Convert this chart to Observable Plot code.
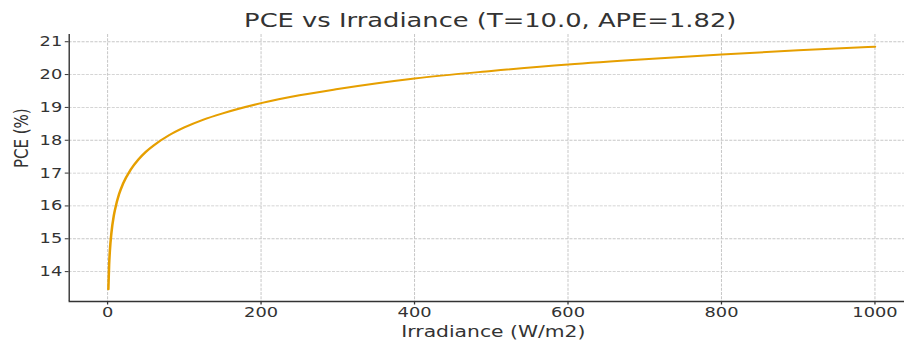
<!DOCTYPE html>
<html>
<head>
<meta charset="utf-8">
<script src="https://cdn.jsdelivr.net/npm/d3@7"></script>
<script src="https://cdn.jsdelivr.net/npm/@observablehq/plot@0.6"></script>
<style>
  html, body { margin: 0; padding: 0; background: #fff; overflow: hidden; }
  #wrap { width: 712px; transform: scaleX(1.27); transform-origin: 0 0; font-family: "DejaVu Sans", sans-serif; color: #333; }
  #title { height: 34px; line-height: 40px; font-size: 20.3px; text-align: center; padding-left: 60px; box-sizing: border-box; white-space: nowrap; }
  #chart svg { display: block; overflow: visible; }
</style>
</head>
<body>
<div id="wrap">
  <div id="title"></div>
  <div id="chart"></div>
</div>
<script>
const titleText = "PCE vs Irradiance (T=10.0, APE=1.82)";
const xLabel = "Irradiance (W/m2)";
const yLabel = "PCE (%)";

// Irradiance (W/m2) and PCE (%)
const irradiance = [1, 2, 3, 5, 8, 10, 15, 20, 30, 40, 50, 60, 80, 100, 125, 150, 200, 250, 300, 400, 500, 600, 700, 800, 900, 1000];
const pce = [13.46, 14.20, 14.64, 15.18, 15.69, 15.92, 16.36, 16.67, 17.10, 17.41, 17.65, 17.84, 18.15, 18.39, 18.63, 18.82, 19.13, 19.37, 19.56, 19.88, 20.11, 20.31, 20.47, 20.61, 20.74, 20.85];

const xTicks = [0, 200, 400, 600, 800, 1000];
const yTicks = [14, 15, 16, 17, 18, 19, 20, 21];
const xDomain = [-50, 1039];
const yDomain = [13.09, 21.22];

const data = irradiance.map((g, i) => ({g, p: pce[i]}));

document.getElementById("title").textContent = titleText;

const chart = Plot.plot({
  width: 712,
  height: 309,
  marginLeft: 54,
  marginRight: 0,
  marginTop: 0,
  marginBottom: 42,
  style: { fontFamily: "DejaVu Sans, sans-serif", color: "#333", background: "#fff", overflow: "visible" },
  x: { domain: xDomain },
  y: { domain: yDomain },
  marks: [
    Plot.gridX(xTicks, { stroke: "#c8c8c8", strokeOpacity: 1, strokeWidth: 0.8, strokeDasharray: "3,1.3" }),
    Plot.gridY(yTicks, { stroke: "#c8c8c8", strokeOpacity: 1, strokeWidth: 0.8, strokeDasharray: "2.4,1" }),
    Plot.line(data, { x: "g", y: "p", stroke: "#e69f00", strokeWidth: 2, curve: "monotone-x" }),
    Plot.ruleX([xDomain[0]], { stroke: "#333", strokeWidth: 1.1 }),
    Plot.ruleY([yDomain[0]], { stroke: "#333", strokeWidth: 1.4 }),
    Plot.axisX(xTicks, { tickSize: 3.5, tickPadding: 2.5, fontSize: 14, label: null, stroke: "#333", tickFormat: d => String(d) }),
    Plot.axisY(yTicks, { tickSize: 3, tickPadding: 2.5, fontSize: 14, label: null, stroke: "#333", tickFormat: d => String(d) }),
    Plot.text([xLabel], { frameAnchor: "bottom", dy: 35, dx: 5, fontSize: 16, fill: "#333" }),
    Plot.text([yLabel], { frameAnchor: "left", rotate: -90, dx: -37.6, fontSize: 15, fill: "#333" })
  ]
});
document.getElementById("chart").appendChild(chart);
</script>
</body>
</html>
